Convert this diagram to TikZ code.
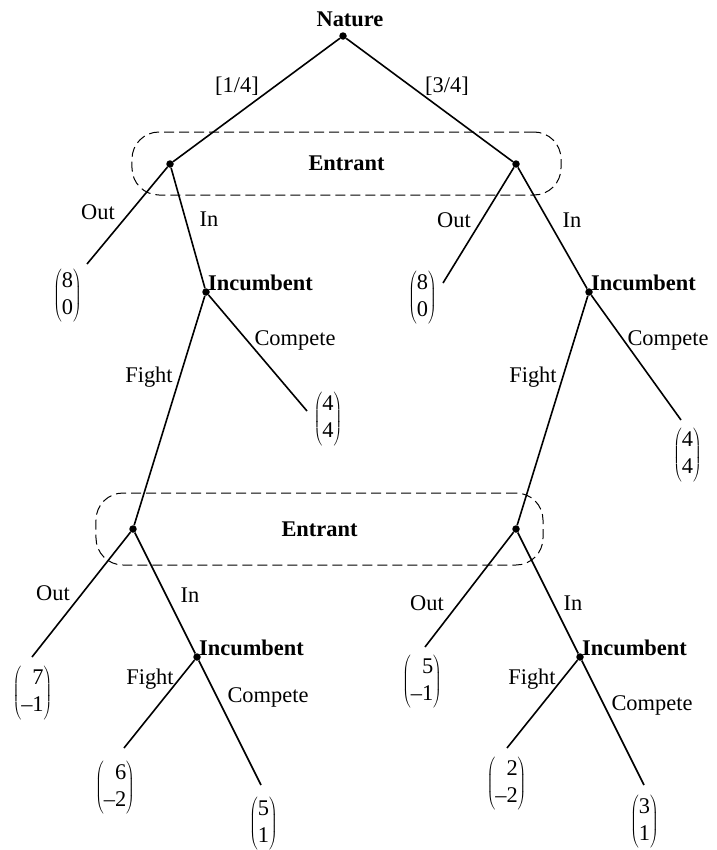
\documentclass[tikz,border=0pt]{standalone}
\usepackage{fontspec}
\setmainfont{Liberation Serif}
\newcommand\pay[2]{$\left(\begin{array}{@{}r@{}}\mbox{#1}\\\mbox{#2}\end{array}\right)$}
\tikzset{
  branch/.style={line width=1.6bp},
  dot/.style={circle, fill, inner sep=0pt, minimum size=7.5bp},
  infoset/.style={draw, dash pattern=on 10bp off 5bp, line width=1bp, rounded corners=27bp,
    font=\fontsize{22.5}{27}\selectfont\bfseries, inner sep=0pt},
  lbl/.style={font=\fontsize{22.5}{27}\selectfont, inner sep=0pt, anchor=base},
  player/.style={font=\fontsize{22.5}{27}\selectfont\bfseries, inner sep=0pt},
  payoff/.style={font=\fontsize{22.5}{27}\selectfont, inner sep=0pt},
}
\begin{document}
\begin{tikzpicture}[x=1bp, y=-1bp]
\useasboundingbox (0,0) rectangle (717,850);
% information sets
\node[infoset, minimum width=429bp, minimum height=63bp] (H1) at (346.5,163.5) {Entrant};
\node[infoset, minimum width=447bp, minimum height=72bp] (H2) at (319.5,529) {Entrant};
% decision nodes
\node[dot] (N) at (343,36) {};
\node[dot] (E1) at (170,164) {};
\node[dot] (E2) at (516,164) {};
\node[dot] (I1) at (206,292) {};
\node[dot] (I2) at (589,292) {};
\node[dot] (L1) at (133,529) {};
\node[dot] (L2) at (516,529) {};
\node[dot] (J1) at (197,657) {};
\node[dot] (J2) at (580,657) {};
% leaf ends
\coordinate (o1) at (87,264);
\coordinate (o2) at (443,283);
\coordinate (c1) at (307,411);
\coordinate (c2) at (681,420);
\coordinate (o3) at (32,657);
\coordinate (o4) at (425,647);
\coordinate (f1) at (124,748);
\coordinate (k1) at (261,785);
\coordinate (f2) at (507,748);
\coordinate (k2) at (644,785);
% branches
\draw[branch] (N) -- (E1);
\draw[branch] (N) -- (E2);
\draw[branch] (E1) -- (o1);
\draw[branch] (E1) -- (I1);
\draw[branch] (E2) -- (o2);
\draw[branch] (E2) -- (I2);
\draw[branch] (I1) -- (c1);
\draw[branch] (I1) -- (L1);
\draw[branch] (I2) -- (c2);
\draw[branch] (I2) -- (L2);
\draw[branch] (L1) -- (o3);
\draw[branch] (L1) -- (J1);
\draw[branch] (L2) -- (o4);
\draw[branch] (L2) -- (J2);
\draw[branch] (J1) -- (f1);
\draw[branch] (J1) -- (k1);
\draw[branch] (J2) -- (f2);
\draw[branch] (J2) -- (k2);
% player labels
\node[player, anchor=base] (tN) at (350,26) {Nature};
\node[player, anchor=west] (tI1) at (208,283) {Incumbent};
\node[player, anchor=west] (tI2) at (591,283) {Incumbent};
\node[player, anchor=west] (tJ1) at (199,648) {Incumbent};
\node[player, anchor=west] (tJ2) at (582,648) {Incumbent};
% branch labels
\node[lbl] (q1) at (237,92) {[1/4]};
\node[lbl] (q2) at (447,92) {[3/4]};
\node[lbl] (a1) at (98,219) {Out};
\node[lbl] (a2) at (209,226) {In};
\node[lbl] (a3) at (454,227) {Out};
\node[lbl] (a4) at (572,227) {In};
\node[lbl] (a5) at (149,382) {Fight};
\node[lbl] (a6) at (295,345) {Compete};
\node[lbl] (a7) at (533,382) {Fight};
\node[lbl] (a8) at (668,345) {Compete};
\node[lbl] (a9) at (53,600) {Out};
\node[lbl] (a10) at (190,602) {In};
\node[lbl] (a11) at (150,684) {Fight};
\node[lbl] (a12) at (268,702) {Compete};
\node[lbl] (a13) at (427,610) {Out};
\node[lbl] (a14) at (573,610) {In};
\node[lbl] (a15) at (532,684) {Fight};
\node[lbl] (a16) at (652,710) {Compete};
% payoffs
\node[payoff] (p1) at (67.5,295.5) {\pay{8}{0}};
\node[payoff] (p2) at (422.5,297.5) {\pay{8}{0}};
\node[payoff] (p3) at (328,419) {\pay{4}{4}};
\node[payoff] (p4) at (687.5,455) {\pay{4}{4}};
\node[payoff] (p5) at (32.5,693) {\pay{7}{–1}};
\node[payoff] (p6) at (115,787.5) {\pay{6}{–2}};
\node[payoff] (p7) at (263.5,823.5) {\pay{5}{1}};
\node[payoff] (p8) at (422,681.5) {\pay{5}{–1}};
\node[payoff] (p9) at (506.5,783.5) {\pay{2}{–2}};
\node[payoff] (p10) at (644.5,821.5) {\pay{3}{1}};
\end{tikzpicture}
\end{document}
